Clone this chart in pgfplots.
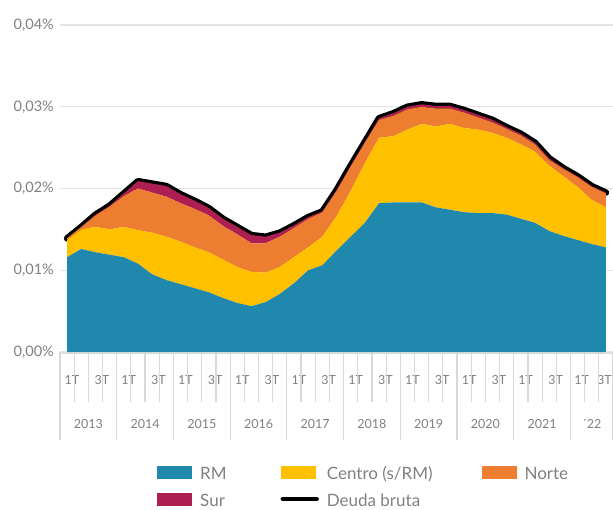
\documentclass[border=0pt]{standalone}
\usepackage{pgfplots}
\usepackage{pgfplotstable}
\pgfplotsset{compat=1.18}
\usepackage{fontspec}
\setmainfont{Lato}
\definecolor{rmc}{HTML}{2087AD}
\definecolor{centroc}{HTML}{FFC000}
\definecolor{nortec}{HTML}{ED7D31}
\definecolor{surc}{HTML}{AD1F52}
\definecolor{labelgray}{HTML}{808080}
\definecolor{gridgray}{HTML}{E4E4E4}
\definecolor{tickgray}{HTML}{D9D9D9}
\pgfplotstableread{
x rm centro norte sur total
0.5 0.0116 0.0021 0.0002 0.0000 0.0139
1.5 0.0126 0.0024 0.0003 0.0000 0.0153
2.5 0.0122 0.0031 0.0014 0.0001 0.0168
3.5 0.0119 0.0031 0.0028 0.0001 0.0179
4.5 0.0116 0.0037 0.0038 0.0003 0.0194
5.5 0.0108 0.0041 0.0051 0.0009 0.0209
6.5 0.0095 0.0051 0.0049 0.0011 0.0206
7.5 0.0088 0.0053 0.0049 0.0013 0.0203
8.5 0.0083 0.0052 0.0047 0.0011 0.0193
9.5 0.0078 0.0050 0.0047 0.0010 0.0185
10.5 0.0073 0.0049 0.0045 0.0009 0.0176
11.5 0.0066 0.0047 0.0041 0.0009 0.0163
12.5 0.0060 0.0044 0.0040 0.0009 0.0153
13.5 0.0056 0.0042 0.0035 0.0010 0.0143
14.5 0.0061 0.0036 0.0036 0.0008 0.0141
15.5 0.0071 0.0033 0.0037 0.0005 0.0146
16.5 0.0084 0.0032 0.0036 0.0003 0.0155
17.5 0.0100 0.0028 0.0035 0.0002 0.0165
18.5 0.0106 0.0035 0.0030 0.0001 0.0172
19.5 0.0124 0.0042 0.0031 0.0001 0.0198
20.5 0.0141 0.0056 0.0030 0.0001 0.0228
21.5 0.0158 0.0073 0.0025 0.0001 0.0257
22.5 0.0182 0.0080 0.0022 0.0002 0.0286
23.5 0.0183 0.0081 0.0025 0.0003 0.0292
24.5 0.0183 0.0089 0.0025 0.0003 0.0300
25.5 0.0183 0.0096 0.0021 0.0003 0.0303
26.5 0.0177 0.0099 0.0022 0.0003 0.0301
27.5 0.0174 0.0105 0.0019 0.0003 0.0301
28.5 0.0171 0.0103 0.0019 0.0003 0.0296
29.5 0.0170 0.0102 0.0015 0.0003 0.0290
30.5 0.0170 0.0098 0.0013 0.0003 0.0284
31.5 0.0168 0.0094 0.0011 0.0002 0.0275
32.5 0.0163 0.0091 0.0011 0.0002 0.0267
33.5 0.0158 0.0087 0.0009 0.0002 0.0256
34.5 0.0148 0.0080 0.0007 0.0002 0.0237
35.5 0.0142 0.0073 0.0009 0.0001 0.0225
36.5 0.0137 0.0065 0.0012 0.0001 0.0215
37.5 0.0132 0.0054 0.0016 0.0001 0.0203
38.5 0.0128 0.0049 0.0017 0.0001 0.0195
}\datatable
\pgfplotsset{myarea/.style={legend image code/.code={\fill[##1] (0pt,-6pt) rectangle (35pt,7pt);}}}
\begin{document}
\begin{tikzpicture}
\useasboundingbox (0,0) rectangle (613pt,509pt);
\begin{axis}[
  at={(60pt,157pt)}, anchor=south west,
  scale only axis, width=553pt, height=327pt,
  xmin=0, xmax=39, ymin=0, ymax=0.04,
  axis line style={draw=none},
  clip=false,
  xtick=\empty,
  scaled y ticks=false,
  ytick={0,0.01,0.02,0.03,0.04},
  yticklabels={0{,}00\%,0{,}01\%,0{,}02\%,0{,}03\%,0{,}04\%},
  ytick style={draw=none},
  yticklabel style={font=\fontsize{14.5}{16}\selectfont, text=labelgray, inner sep=0pt, xshift=-6pt},
  ymajorgrids,
  grid style={gridgray, line width=1.4pt},
  stack plots=y,
  legend columns=3,
  legend cell align=left,
  legend style={at={(axis description cs:0.1754,-0.3486)}, anchor=north west, draw=none, fill=none, inner sep=0pt,
    font=\fontsize{17}{20}\selectfont, text=labelgray,
    nodes={inner sep=0pt, text height=13pt, text depth=0pt},
    row sep=13pt,
    /tikz/every odd column/.style={column sep=8pt},
    /tikz/column 2/.style={column sep=54pt},
    /tikz/column 3/.style={column sep=5pt},
    /tikz/column 4/.style={column sep=49pt}},
]
\addplot[fill=rmc, draw=none, myarea] table[x=x,y=rm]{\datatable} \closedcycle;
\addlegendentry{RM}
\addplot[fill=centroc, draw=none, myarea] table[x=x,y=centro]{\datatable} \closedcycle;
\addlegendentry{Centro (s/RM)}
\addplot[fill=nortec, draw=none, myarea] table[x=x,y=norte]{\datatable} \closedcycle;
\addlegendentry{Norte}
\addplot[fill=surc, draw=none, myarea] table[x=x,y=sur]{\datatable} \closedcycle;
\addlegendentry{Sur}
\addplot[stack plots=false, draw=black, line width=6.5pt, line join=round, line cap=round,
  legend image code/.code={\draw[black, line width=4.5pt, line cap=round] (2.25pt,0.5pt) -- (36pt,0.5pt);}]
  table[x=x,y=total]{\datatable};
\addlegendentry{Deuda bruta}
\draw[tickgray, line width=1.6pt] (axis cs:0,0) ++(0pt,-1.5pt) -- ([yshift=-1.5pt]axis cs:39,0);
\pgfplotsinvokeforeach{0,4,8,12,16,20,24,28,32,36,39}{
  \draw[tickgray, line width=1.2pt] (axis cs:#1,0) -- ++(0pt,-88pt);
}
\pgfplotsinvokeforeach{1,2,3,5,6,7,9,10,11,13,14,15,17,18,19,21,22,23,25,26,27,29,30,31,33,34,35,37,38}{
  \draw[tickgray, line width=1.2pt] (axis cs:#1,0) -- ++(0pt,-50pt);
}
\pgfplotsinvokeforeach{0,4,8,12,16,20,24,28,32}{
  \node[font=\fontsize{12.5}{14}\selectfont, text=labelgray, inner sep=0.5pt, yshift=-28pt] at (axis cs:#1+0.85,0) {1T};
  \node[font=\fontsize{12.5}{14}\selectfont, text=labelgray, inner sep=0.5pt, yshift=-28pt] at (axis cs:#1+2.95,0) {3T};
}
\node[font=\fontsize{12.5}{14}\selectfont, text=labelgray, inner sep=0.5pt, yshift=-28pt] at (axis cs:36.8,0) {1T};
\node[font=\fontsize{12.5}{14}\selectfont, text=labelgray, inner sep=0.5pt, yshift=-28pt] at (axis cs:38.4,0) {3T};
\node[font=\fontsize{12.5}{14}\selectfont, text=labelgray, yshift=-72pt] at (axis cs:2,0) {2013};
\node[font=\fontsize{12.5}{14}\selectfont, text=labelgray, yshift=-72pt] at (axis cs:6,0) {2014};
\node[font=\fontsize{12.5}{14}\selectfont, text=labelgray, yshift=-72pt] at (axis cs:10,0) {2015};
\node[font=\fontsize{12.5}{14}\selectfont, text=labelgray, yshift=-72pt] at (axis cs:14,0) {2016};
\node[font=\fontsize{12.5}{14}\selectfont, text=labelgray, yshift=-72pt] at (axis cs:18,0) {2017};
\node[font=\fontsize{12.5}{14}\selectfont, text=labelgray, yshift=-72pt] at (axis cs:22,0) {2018};
\node[font=\fontsize{12.5}{14}\selectfont, text=labelgray, yshift=-72pt] at (axis cs:26,0) {2019};
\node[font=\fontsize{12.5}{14}\selectfont, text=labelgray, yshift=-72pt] at (axis cs:30,0) {2020};
\node[font=\fontsize{12.5}{14}\selectfont, text=labelgray, yshift=-72pt] at (axis cs:34,0) {2021};
\node[font=\fontsize{12.5}{14}\selectfont, text=labelgray, yshift=-72pt] at (axis cs:37.5,0) {´22};
\end{axis}
\end{tikzpicture}
\end{document}
